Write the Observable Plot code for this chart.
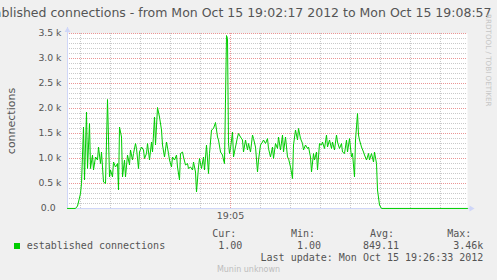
<!DOCTYPE html>
<html><head><meta charset="utf-8">
<script src="https://cdn.jsdelivr.net/npm/d3@7"></script>
<script src="https://cdn.jsdelivr.net/npm/@observablehq/plot@0.6"></script>
<style>
html,body{margin:0;padding:0;background:#f0f0f0;}
#wrap{position:relative;width:497px;height:280px;overflow:hidden;background:#f0f0f0;font-family:"DejaVu Sans";color:#555;}
#wrap svg{position:absolute;left:0;top:0;}
.t{position:absolute;white-space:pre;line-height:1;}
.mono{font-family:"DejaVu Sans Mono";font-size:10px;}
</style></head><body><div id="wrap"></div>
<script>
// ---- data ----
const titleText = "established connections - from Mon Oct 15 19:02:17 2012 to Mon Oct 15 19:08:57";
const startTime = "2012-10-15T19:02:17Z";
const rangeSeconds = 400;
const offsets = [0,8,10,11,13,14,16,17,19,20,22,23,25,26,28,30,31,33,34,36,38,40,42,43,45,46,48,50,51,52,54,55,57,58,60,62,63,65,66,68,69,71,72,74,76,77,79,80,82,84,85,87,88,90,92,94,95,97,99,101,102,104,105,107,109,110,112,113,115,116,118,120,121,123,125,126,128,129,131,132,134,136,137,139,141,142,144,146,148,150,151,153,155,156,157,159,160,161,162,163,165,166,168,170,171,173,175,176,178,180,181,183,185,186,188,190,191,193,195,196,198,200,201,203,205,206,208,210,211,213,215,216,218,220,221,223,225,226,228,230,231,233,235,236,238,240,241,243,244,246,247,249,250,252,254,255,257,259,260,262,264,265,267,269,270,272,274,275,277,279,280,282,284,285,287,288,290,291,292,294,296,297,299,301,302,304,306,307,309,310,312,314,400];
const values = [1,1,50,130,300,500,1630,570,1930,800,1700,800,1070,770,1030,970,1230,900,1130,530,500,2180,630,770,630,930,830,900,370,1630,1430,630,970,630,1070,870,1170,970,1100,1300,1200,800,1130,1230,1170,1000,1100,1300,970,1330,1130,1830,1270,2020,1830,1570,1270,1030,1330,1100,970,830,1030,970,1070,830,570,1100,1130,1030,870,900,800,830,770,930,730,330,830,1000,800,1030,770,1270,700,1100,1570,1600,1720,1430,1370,1130,1070,970,900,3460,3400,1300,1100,1200,1530,1030,1230,1430,1500,1430,1370,1130,1370,1170,1300,1130,1470,1400,1230,730,970,1270,1330,1370,1300,1400,1200,1030,1230,1000,1300,1200,1430,1170,1470,1130,1430,1030,1000,830,600,1270,1570,1370,1600,1400,1300,1170,1270,1200,1230,1030,730,1100,970,1130,770,1300,1270,1330,1200,1470,1230,1370,1200,1330,1170,1470,1330,1200,1300,1130,1100,1370,1130,1400,1030,1100,630,1370,1900,1470,1370,1230,1130,1070,970,1100,970,1100,930,1130,900,370,70,1,1];
const yTicks = [0,500,1000,1500,2000,2500,3000,3500];
const yTickLabels = ["0.0\u00a0\u00a0","0.5 k","1.0 k","1.5 k","2.0 k","2.5 k","3.0 k","3.5 k"];
const xTicks = ["2012-10-15T19:05:00Z"];
const xTickLabels = ["19:05"];
const yLabel = "connections";
const seriesName = "established connections";
const statLabels = ["Cur:","Min:","Avg:","Max:"];
const statValues = ["1.00","1.00","849.11","3.46k"];
const lastUpdate = "Last update: Mon Oct 15 19:26:33 2012";
const watermark = "Munin unknown";
const rrdText = "RRDTOOL / TOBI OETIKER";

// ---- build ----
const t0 = new Date(startTime);
const tEnd = new Date(+t0 + rangeSeconds*1000);
const data = offsets.map((s,i)=>({time:new Date(+t0 + s*1000), value:values[i]}));
const xTickDates = xTicks.map(d=>new Date(d));
const vAll = d3.utcSecond.every(30).range(t0, tEnd);
const vMajor = d3.utcMinute.every(5).range(t0, tEnd);
const vMinor = vAll.filter(d => !vMajor.some(m => +m === +d));
const yMinor = d3.range(0, 3501, 100).filter(v => v % 500 !== 0);
const axisColor = "#CFD6F8";
const minorColor = "#c9c9c9";
const majorColor = "#eb9595";
const lineColor = "#00cc00";

const chart = Plot.plot({
  width: 497, height: 280,
  marginLeft: 67, marginRight: 30, marginTop: 33, marginBottom: 72,
  style: {background: "transparent", fontFamily: "DejaVu Sans", color: "#555", overflow: "visible"},
  x: {type: "utc", domain: [t0, tEnd]},
  y: {domain: [0, 3500]},
  marks: [
    Plot.frame({fill: "#ffffff", stroke: "none"}),
    Plot.ruleY(yMinor, {stroke: minorColor, strokeDasharray: "1,1"}),
    Plot.ruleX(vMinor, {stroke: minorColor, strokeDasharray: "1,1"}),
    Plot.ruleY(yTicks, {stroke: majorColor, strokeDasharray: "1,1"}),
    Plot.ruleX(vMajor, {stroke: majorColor, strokeDasharray: "1,1"}),
    Plot.ruleX([t0], {y1: 0, y2: 3620, stroke: axisColor}),
    Plot.ruleY([0], {x1: t0, x2: new Date(+t0 + 403000), stroke: axisColor}),
    Plot.dot([{x: t0, y: 3564}], {x: "x", y: "y", symbol: "triangle", r: 2.2, fill: axisColor, stroke: "none"}),
    Plot.dot([{x: new Date(+t0 + 403700), y: 0}], {x: "x", y: "y", symbol: "triangle", r: 2.2, rotate: 90, fill: axisColor, stroke: "none"}),
    Plot.line(data, {x: "time", y: "value", stroke: lineColor, strokeWidth: 1}),
    Plot.axisY({ticks: yTicks, tickFormat: d => yTickLabels[yTicks.indexOf(d)], tickSize: 0, tickPadding: 6, fontSize: 9.3, fill: "#555", label: null}),
    Plot.axisX({ticks: xTickDates, tickFormat: d => xTickLabels[xTickDates.findIndex(x => +x === +d)], tickSize: 0, tickPadding: 4, fontSize: 9.5, fill: "#555", label: null}),
    Plot.text([yLabel], {text: d => d, frameAnchor: "left", dx: -56.5, rotate: -90, fontSize: 11, fill: "#555", textAnchor: "middle"})
  ]
});
const wrap = document.getElementById("wrap");
wrap.appendChild(chart);

function addText(txt, cls, left, top, extra) {
  const el = document.createElement("div");
  el.className = "t " + cls;
  el.textContent = txt;
  el.style.left = left + "px";
  el.style.top = top + "px";
  if (extra) Object.assign(el.style, extra);
  wrap.appendChild(el);
  return el;
}
// title (overflows the left edge, as in the original)
addText(titleText, "", 491.5, 7.4, {fontSize: "12.5px", transform: "translateX(-100%)", color: "#555"});
// rrdtool vertical text
addText(rrdText, "", 492.4, 14, {fontSize: "7.2px", transformOrigin: "0 0", transform: "rotate(90deg)", color: "#c6c6c6"});
// legend
const sq = document.createElement("div");
Object.assign(sq.style, {position: "absolute", left: "14px", top: "243px", width: "6px", height: "6px", background: lineColor});
wrap.appendChild(sq);
addText(seriesName, "mono", 26.7, 241);
const headerX = [212.3, 291, 370, 447.3];
const valueRight = [242.3, 321, 399, 483.3];
statLabels.forEach((s,i)=>addText(s, "mono", headerX[i], 228.8));
statValues.forEach((s,i)=>addText(s, "mono", valueRight[i], 241, {transform: "translateX(-100%)"}));
addText(lastUpdate, "mono", 483.3, 252.8, {transform: "translateX(-100%)"});
addText(watermark, "", 248.5, 265.5, {fontSize: "8px", transform: "translateX(-50%)", color: "#bdbdbd"});
</script></body></html>
